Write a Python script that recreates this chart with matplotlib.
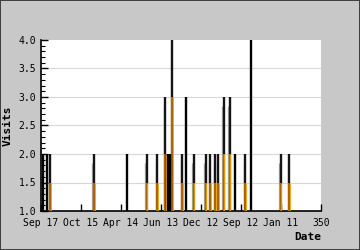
import matplotlib
matplotlib.use("Agg")
import matplotlib.pyplot as plt
from matplotlib.ticker import MultipleLocator, FixedLocator

# Data (x index along the date axis, visits)
grad_x = [11.9, 66, 132, 145, 155, 164, 176, 190.5, 205.5, 211, 217.5, 221, 228, 235.5, 255, 299, 310]
grad_v = [2, 2, 2, 2, 3, 4, 2, 2, 2, 2, 2, 2, 3, 3, 2, 2, 2]
dark_x = [2.5, 7.5, 107.5, 157.5, 159.5, 161, 182, 242.5, 263]
dark_v = [2, 2, 2, 2, 2, 2, 3, 2, 4]

xtick_pos = [0, 50, 100, 150, 200, 250, 300, 350]
xtick_labels = ["Sep 17", "Oct 15", "Apr 14", "Jun 13", "Dec 12", "Sep 12", "Jan 11", "350"]
ytick_pos = [1.0, 1.5, 2.0, 2.5, 3.0, 3.5, 4.0]

plt.rcParams['font.family'] = ['DejaVu Sans Mono']
plt.rcParams['font.size'] = 7

fig = plt.figure(figsize=(3.6, 2.5), dpi=100)
fig.patch.set_facecolor('#c8c8c8')
fig.patch.set_edgecolor('#404040')
fig.patch.set_linewidth(1.2)
ax = fig.add_axes([0.1125, 0.156, 0.7795, 0.684])
ax.set_facecolor('white')
ax.set_xlim(0, 350)
ax.set_ylim(1.0, 4.0)

for y in ytick_pos[1:-1]:
    ax.axhline(y, color='#d8d8d8', lw=0.8, zorder=0)

px = 350 / 280.0  # data units per pixel
for x, v in zip(grad_x, grad_v):
    mid = max(1.5, v - 1)
    ax.vlines(x - 1.0 * px, 1.0, v - 0.15, color='#a8a8a8', lw=0.9, zorder=2)
    ax.vlines(x + 0.4 * px, 1.0, mid, color='#a86800', lw=1.7, zorder=3)
    ax.vlines(x + 0.4 * px, mid, v, color='#151515', lw=1.7, zorder=3)
    ax.vlines(x + 1.1 * px, 1.0, mid, color='#f0a000', lw=0.6, zorder=4)

for x, v in zip(dark_x, dark_v):
    ax.vlines(x, 1.0, v, color='black', lw=1.7, zorder=3)

for s in ['top', 'right']:
    ax.spines[s].set_visible(False)
ax.spines['left'].set_linewidth(1.2)
ax.spines['bottom'].set_linewidth(1.2)

ax.xaxis.set_major_locator(FixedLocator(xtick_pos))
ax.set_xticklabels(xtick_labels)
ax.yaxis.set_major_locator(FixedLocator(ytick_pos))
ax.set_yticklabels([f"{y:.1f}" for y in ytick_pos])
ax.yaxis.set_minor_locator(MultipleLocator(0.1))
ax.tick_params(axis='x', direction='in', length=5, width=1, pad=5, colors='black')
ax.tick_params(axis='y', which='major', direction='in', length=5, width=1, pad=3)
ax.tick_params(axis='y', which='minor', direction='in', length=3, width=0.8)

ax.set_ylabel('Visits', fontweight='bold', fontsize=8, labelpad=4)
ax.set_xlabel('Date', fontweight='bold', fontsize=8, loc='right', labelpad=3)

fig.savefig('out.png', dpi=100, facecolor=fig.get_facecolor(), edgecolor=fig.get_edgecolor())
